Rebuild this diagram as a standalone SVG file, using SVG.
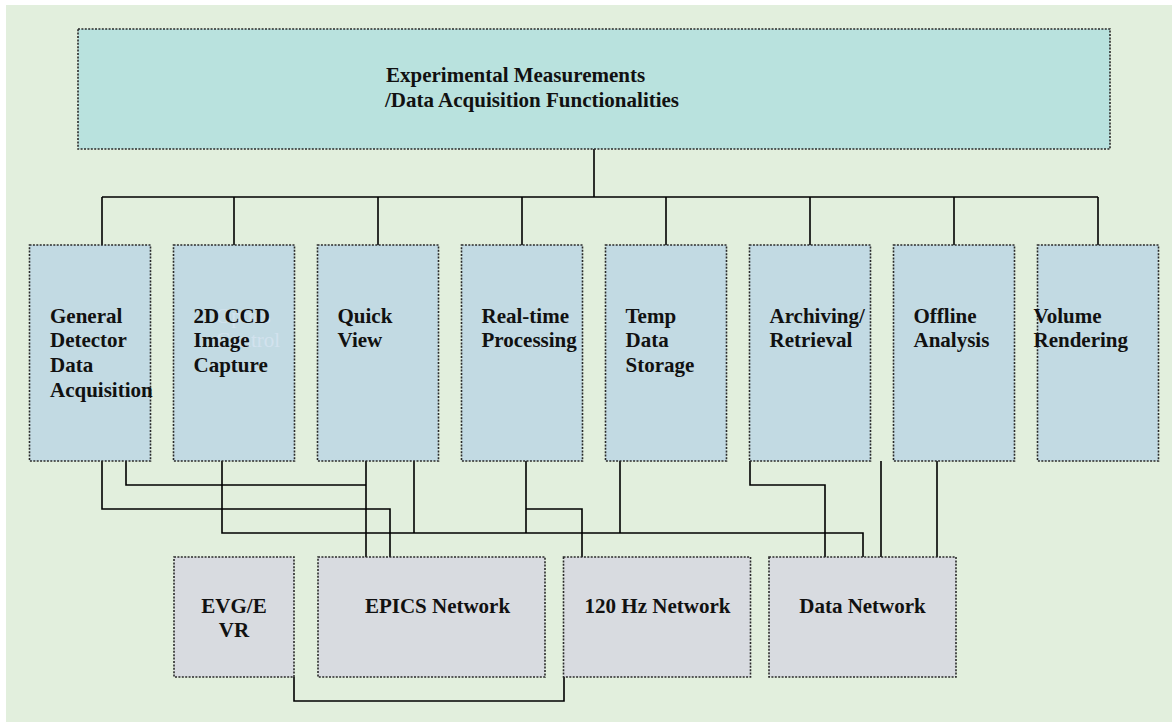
<svg xmlns="http://www.w3.org/2000/svg" width="1172" height="722" viewBox="0 0 1172 722">
<style>
.bg{fill:#E2EFDD}
.box{stroke:#2a2a2a;stroke-width:1.6;stroke-dasharray:2 1.4}
.top{fill:#B9E2DE}
.mid{fill:#C2DAE3}
.bot{fill:#D8DBE0}
.t{font-family:"Liberation Serif","Times New Roman",serif;font-weight:bold;font-size:21px;fill:#111}
.tc{text-anchor:middle}
.ghost{font-family:"Liberation Serif","Times New Roman",serif;font-size:21px;fill:#D2E2EE}
.c{fill:none;stroke:#000;stroke-width:1.6}
</style>
<rect class="bg" x="6" y="5" width="1166" height="717"/>

<g id="connectors">
  <path class="c" d="M594 149V197M102 197H1098M102 197V245M234 197V245M378 197V245M522 197V245M666 197V245M810 197V245M954 197V245M1098 197V245"/>
  <path class="c" d="M102 461V509H390V557"/>
  <path class="c" d="M126 461V485H366"/>
  <path class="c" d="M366 461V557"/>
  <path class="c" d="M222 461V533H863V557"/>
  <path class="c" d="M414 461V533"/>
  <path class="c" d="M526 461V533"/>
  <path class="c" d="M526 509H582V557"/>
  <path class="c" d="M620 461V533"/>
  <path class="c" d="M750 461V485H825V557"/>
  <path class="c" d="M881 461V557"/>
  <path class="c" d="M937 461V557"/>
  <path class="c" d="M294 677V701H564V677"/>
</g>

<g id="n-top">
  <rect class="box top" x="78" y="29" width="1032" height="120"/>
  <text class="t" x="386" y="82">Experimental Measurements</text>
  <text class="t" x="385" y="107">/Data Acquisition Functionalities</text>
</g>

<g id="n-general">
  <rect class="box mid" x="29.5" y="245" width="121" height="216"/>
  <text class="t" x="50" y="322.5">General</text>
  <text class="t" x="50" y="347">Detector</text>
  <text class="t" x="50" y="372">Data</text>
  <text class="t" x="50" y="396.5">Acquisition</text>
</g>

<g id="n-ccd">
  <rect class="box mid" x="173.5" y="245" width="121" height="216"/>
  <text class="ghost" x="216" y="322.5">Optics</text>
  <text class="ghost" x="216" y="347">Control</text>
  <text class="t" x="193.5" y="322.5">2D CCD</text>
  <text class="t" x="193.5" y="347">Image</text>
  <text class="t" x="193.5" y="372">Capture</text>
</g>

<g id="n-quick">
  <rect class="box mid" x="317.5" y="245" width="121" height="216"/>
  <text class="t" x="337.5" y="322.5">Quick</text>
  <text class="t" x="337.5" y="347">View</text>
</g>

<g id="n-realtime">
  <rect class="box mid" x="461.5" y="245" width="121" height="216"/>
  <text class="t" x="481.5" y="322.5">Real-time</text>
  <text class="t" x="481.5" y="347">Processing</text>
</g>

<g id="n-temp">
  <rect class="box mid" x="605.5" y="245" width="121" height="216"/>
  <text class="t" x="625.5" y="322.5">Temp</text>
  <text class="t" x="625.5" y="347">Data</text>
  <text class="t" x="625.5" y="372">Storage</text>
</g>

<g id="n-archiving">
  <rect class="box mid" x="749.5" y="245" width="121" height="216"/>
  <text class="t" x="769.5" y="322.5">Archiving/</text>
  <text class="t" x="769.5" y="347">Retrieval</text>
</g>

<g id="n-offline">
  <rect class="box mid" x="893.5" y="245" width="121" height="216"/>
  <text class="t" x="913.5" y="322.5">Offline</text>
  <text class="t" x="913.5" y="347">Analysis</text>
</g>

<g id="n-volume">
  <rect class="box mid" x="1037.5" y="245" width="121" height="216"/>
  <text class="t" x="1033.5" y="322.5">Volume</text>
  <text class="t" x="1033.5" y="347">Rendering</text>
</g>

<g id="n-evg">
  <rect class="box bot" x="174" y="557" width="120" height="120"/>
  <text class="t tc" x="234" y="612.5">EVG/E</text>
  <text class="t tc" x="234" y="637">VR</text>
</g>

<g id="n-epics">
  <rect class="box bot" x="318" y="557" width="227" height="120"/>
  <text class="t tc" x="437.5" y="613">EPICS Network</text>
</g>

<g id="n-120hz">
  <rect class="box bot" x="563.5" y="557" width="187" height="120"/>
  <text class="t tc" x="657.5" y="613">120 Hz Network</text>
</g>

<g id="n-data">
  <rect class="box bot" x="769" y="557" width="187" height="120"/>
  <text class="t tc" x="862.5" y="613">Data Network</text>
</g>
</svg>
